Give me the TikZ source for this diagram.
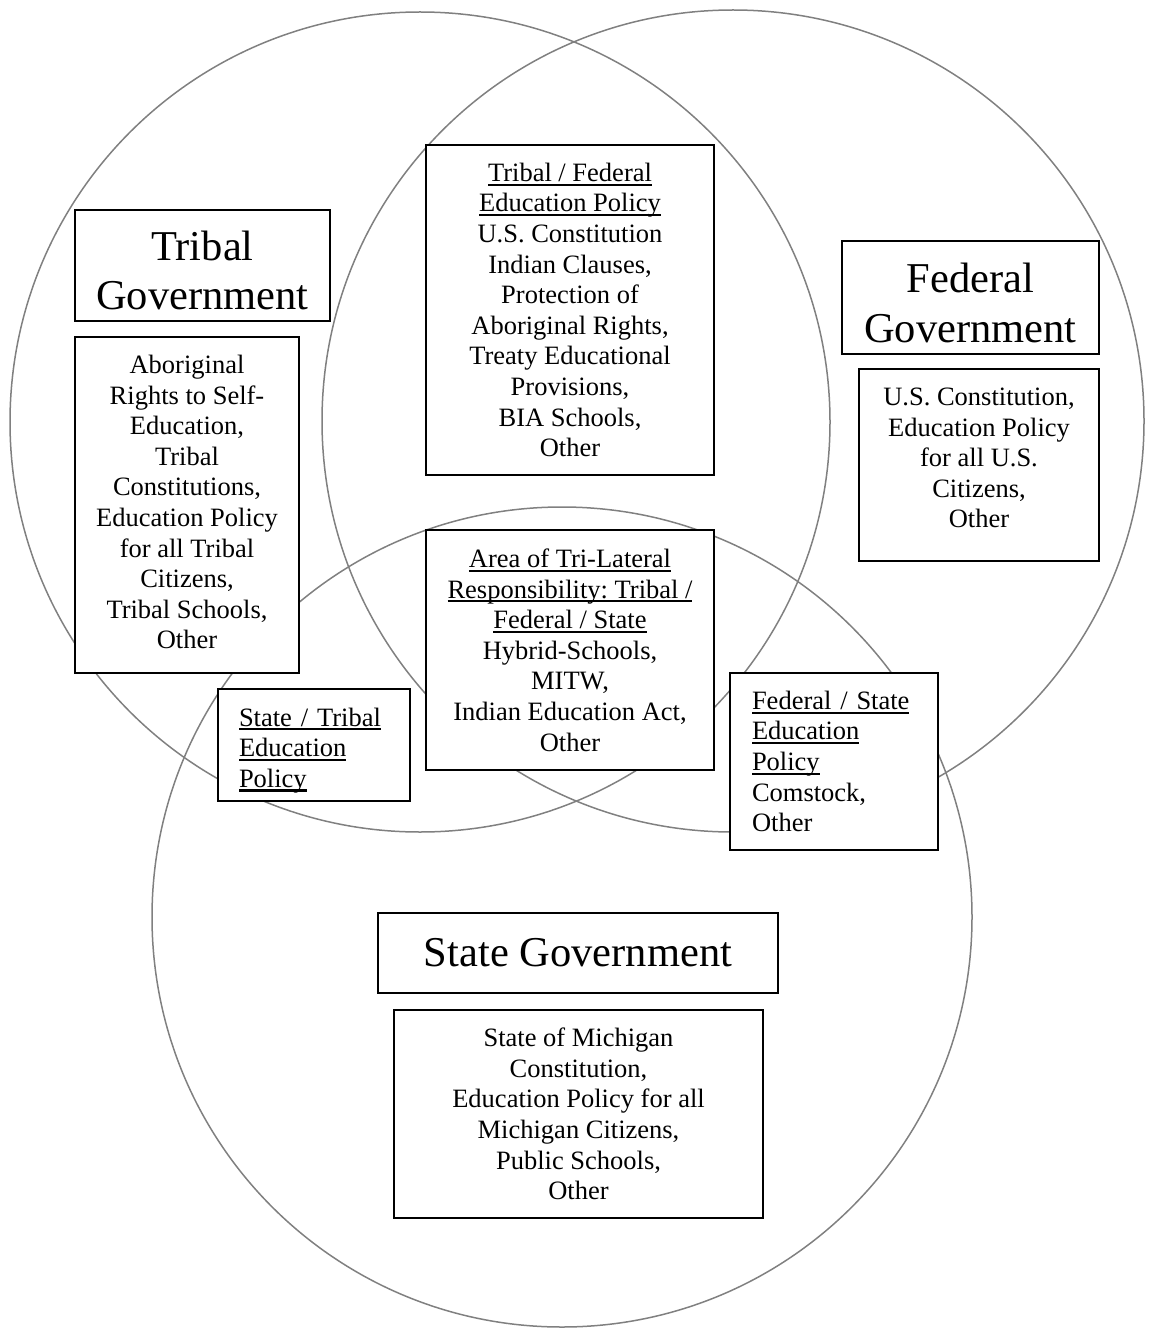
\documentclass[tikz,border=0pt]{standalone}
\usepackage{fontspec}
\setmainfont{Liberation Serif}
\frenchspacing
\newcommand\undl[1]{\leavevmode\setbox0\hbox{#1}\rlap{\vrule width\wd0 height -2.2pt depth 4.4pt}\box0}
\begin{document}
\begin{tikzpicture}[x=1pt,y=-1pt,
	ring/.style={draw=black!50,line width=1.5pt},
	box/.style={draw,fill=white,line width=1.6pt,inner sep=0pt,align=center,
		font={\fontsize{26.5}{30.6}\selectfont}},
	head/.style={box,font={\fontsize{42.5}{49.5}\selectfont}},
	leftbox/.style={box,align=left,inner xsep=21pt}]
		\useasboundingbox (0,0) rectangle (1149,1329);

		\draw[ring] (420,422) circle[radius=410pt];
		\draw[ring] (733,421) circle[radius=411pt];
		\draw[ring] (562,917) circle[radius=410pt];

		\node[head,minimum width=255pt,minimum height=111pt] (tribalhead) at (202.5,265.5) {\rule{0pt}{39pt}Tribal\\Government};
		\node[box,minimum width=224pt,minimum height=336pt] (tribalbox) at (187,505) {Aboriginal\\Rights to Self-\\Education,\\Tribal\\Constitutions,\\Education Policy\\for all Tribal\\Citizens,\\Tribal Schools,\\Other\rule[-6pt]{0pt}{6pt}};

		\node[box,minimum width=288pt,minimum height=330pt] (tfbox) at (570,310) {\undl{Tribal / Federal}\\\undl{Education Policy}\\U.S. Constitution\\Indian Clauses,\\Protection of\\Aboriginal Rights,\\Treaty Educational\\Provisions,\\BIA Schools,\\Other};

		\node[head,minimum width=257pt,minimum height=113pt] (fedhead) at (970.5,297.5) {\rule{0pt}{40pt}Federal\\Government};
		\node[box,minimum width=240pt,minimum height=192pt] (fedbox) at (979,465) {U.S. Constitution,\\Education Policy\\for all U.S.\\Citizens,\\Other\rule[-14pt]{0pt}{14pt}};

		\node[box,minimum width=288pt,minimum height=240pt] (tribox) at (570,650) {\undl{Area of Tri-Lateral}\\\undl{Responsibility: Tribal /}\\\undl{Federal / State}\\Hybrid-Schools,\\MITW,\\Indian Education Act,\\Other};

		\node[leftbox,text width=150pt,minimum height=112pt] (stbox) at (314,745) {\rule{0pt}{29pt}\undl{State / Tribal}\\\undl{Education}\\\undl{Policy}};
		\node[leftbox,text width=164pt,inner xsep=22pt,minimum height=177pt] (fsbox) at (834,761.5) {\undl{Federal / State}\\\undl{Education}\\\undl{Policy}\\Comstock,\\Other};

		\node[head,minimum width=400pt,minimum height=80pt] (statehead) at (578,953) {State Government};
		\node[box,minimum width=369pt,minimum height=208pt] (statebox) at (578.5,1114) {State of Michigan\\Constitution,\\Education Policy for all\\Michigan Citizens,\\Public Schools,\\Other};
	\end{tikzpicture}
\end{document}
